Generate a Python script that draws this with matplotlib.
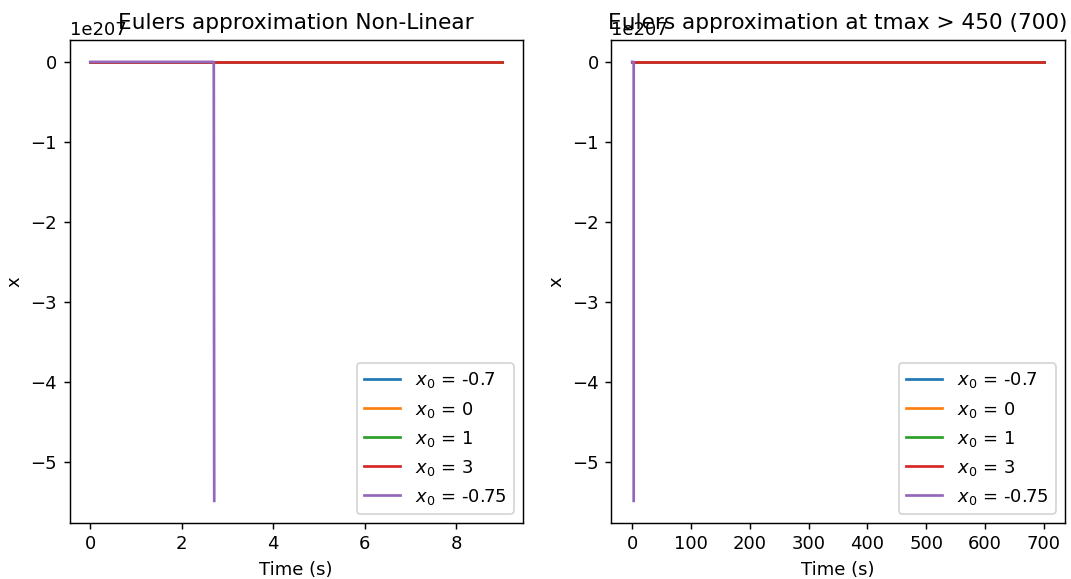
import numpy as np
import matplotlib.pyplot as plt

# initial conditions and legend labels
x0_labels = ['-0.7', '0', '1', '3', '-0.75']

# time points (s) and solution values
t_short = [0, 9]
t_long = [0, 700]
x_stable = {
    '-0.7': [-0.7, -0.7],
    '0': [0, 0],
    '1': [1, 1],
    '3': [3, 3],
}
t_blowup = [0, 2.6, 2.7, 2.71]
x_blowup = [-0.75, -1.0e3, -1.0e100, -5.48e207]

fig, (ax1, ax2) = plt.subplots(1, 2, figsize=(1071 / 130, 579 / 130), dpi=130)

for ax, t_end in [(ax1, t_short), (ax2, t_long)]:
    for lab in x0_labels[:4]:
        ax.plot(t_end, x_stable[lab], label=f'$x_0$ = {lab}')
    ax.plot(t_blowup, x_blowup, label=f'$x_0$ = {x0_labels[4]}')
    ax.set_xlabel('Time (s)')
    ax.set_ylabel('x')
    ax.legend(loc='lower right')

# fixed y so the title sits just above the axes (overlapping the offset text)
ax1.set_title('Eulers approximation Non-Linear', y=1.0)
ax2.set_title('Eulers approximation at tmax > 450 (700)', y=1.0)

plt.subplots_adjust(left=0.065, right=0.994, top=0.931, bottom=0.097, wspace=0.196)
plt.savefig('out.png')
